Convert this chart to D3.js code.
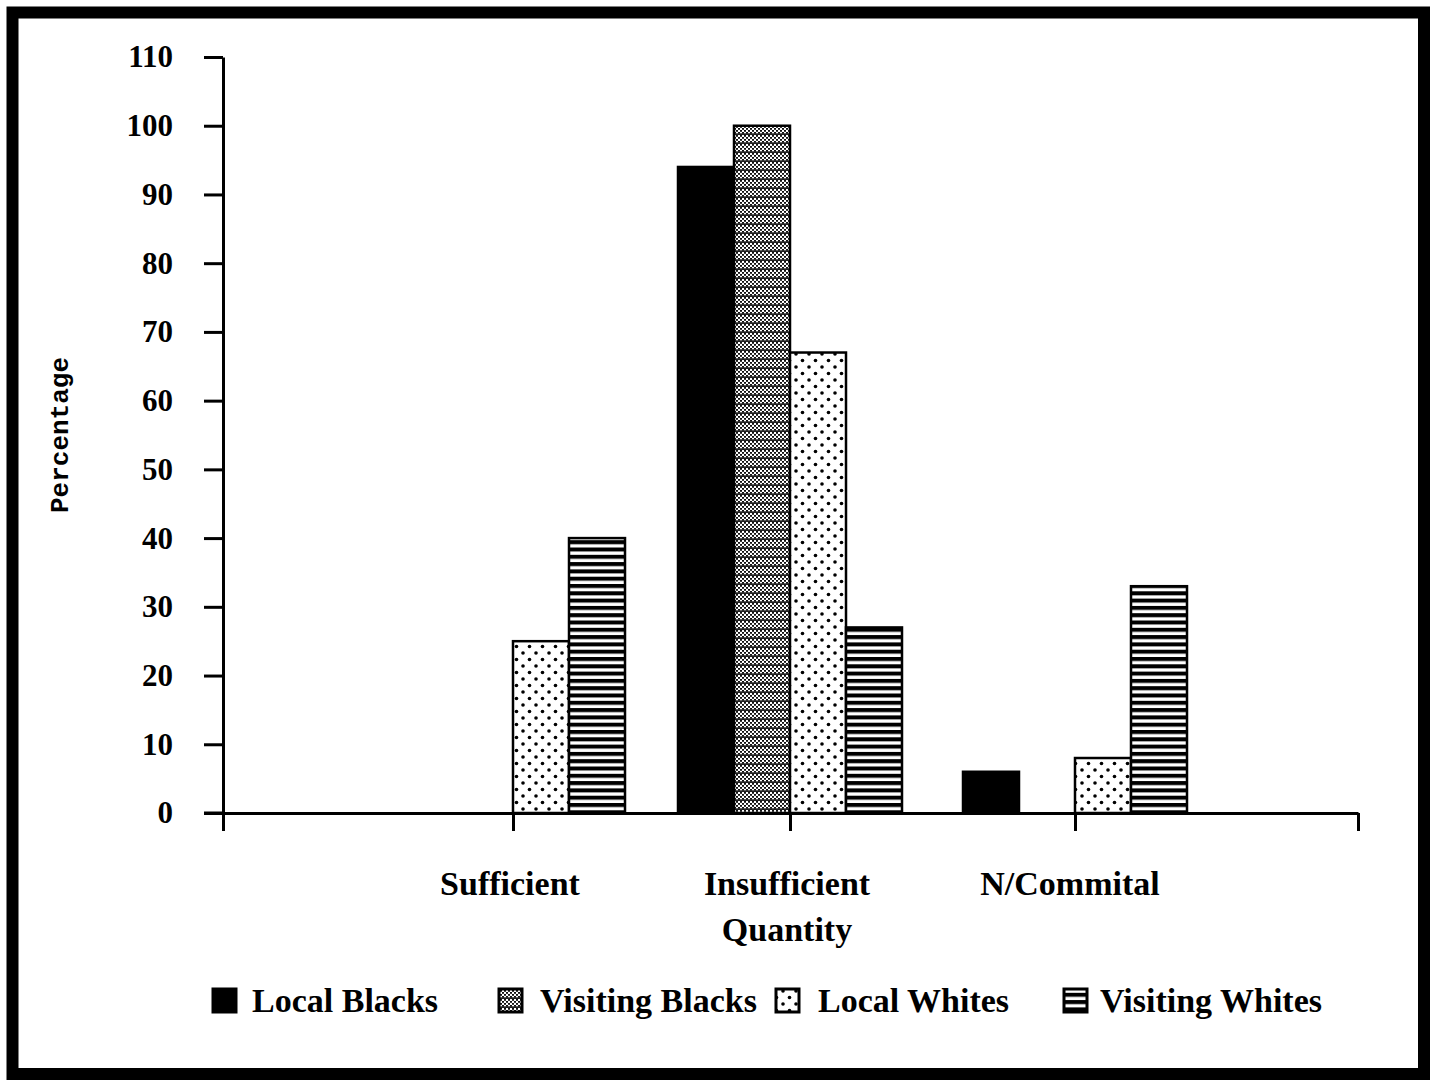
<!DOCTYPE html>
<html><head><meta charset="utf-8">
<script src="https://cdn.jsdelivr.net/npm/d3@7"></script>
<style>html,body{margin:0;padding:0;background:#fff;}</style>
</head><body>
<script>
const categories = ["Sufficient", "Insufficient\nQuantity", "N/Commital"];
const seriesNames = ["Local Blacks", "Visiting Blacks", "Local Whites", "Visiting Whites"];
const localBlacks = [0, 94, 6];
const visitingBlacks = [0, 100, 0];
const localWhites = [25, 67, 8];
const visitingWhites = [40, 27, 33];
const yTicks = [0, 10, 20, 30, 40, 50, 60, 70, 80, 90, 100, 110];
const yLabel = "Percentage";

const seriesValues = [localBlacks, visitingBlacks, localWhites, visitingWhites];
const W = 1438, H = 1085;
const svg = d3.select("body").append("svg").attr("width", W).attr("height", H);
const defs = svg.append("defs");

// patterns
const p1 = defs.append("pattern").attr("id", "pLB").attr("patternUnits", "userSpaceOnUse").attr("width", 4).attr("height", 4);
p1.append("rect").attr("width", 4).attr("height", 4).attr("fill", "#000");

const p2 = defs.append("pattern").attr("id", "pVB").attr("patternUnits", "userSpaceOnUse").attr("width", 4).attr("height", 9);
p2.append("rect").attr("width", 4).attr("height", 9).attr("fill", "#fff");
[[0,0],[2,2],[0,4],[2,6],[0,8]].forEach(([x,y]) => p2.append("rect").attr("x", x).attr("y", y).attr("width", 2).attr("height", 1.8).attr("fill", "#111"));
p2.append("rect").attr("x", 0).attr("y", 7.3).attr("width", 4).attr("height", 1.7).attr("fill", "#222");

const p3 = defs.append("pattern").attr("id", "pLW").attr("patternUnits", "userSpaceOnUse").attr("width", 13).attr("height", 13);
p3.append("rect").attr("width", 13).attr("height", 13).attr("fill", "#fff");
p3.append("circle").attr("cx", 3).attr("cy", 3).attr("r", 1.8).attr("fill", "#000");
p3.append("circle").attr("cx", 9.5).attr("cy", 9.5).attr("r", 1.8).attr("fill", "#000");

const p4 = defs.append("pattern").attr("id", "pVW").attr("patternUnits", "userSpaceOnUse").attr("width", 8).attr("height", 7.3);
p4.append("rect").attr("width", 8).attr("height", 7.3).attr("fill", "#fff");
p4.append("rect").attr("y", 0).attr("width", 8).attr("height", 4).attr("fill", "#000");

const fills = ["url(#pLB)", "url(#pVB)", "url(#pLW)", "url(#pVW)"];

// frame
svg.append("rect").attr("x", 12.5).attr("y", 12.5).attr("width", 1411.5).attr("height", 1061.5)
  .attr("fill", "none").attr("stroke", "#000").attr("stroke-width", 12);

const serif = "'Liberation Serif', 'Times New Roman', serif";

const y = d3.scaleLinear().domain([0, 110]).range([813, 57]);
const x = d3.scaleLinear().domain([0, 1, 2, 3, 4]).range([223, 513, 790, 1075, 1358]);
const inner = d3.scaleBand().domain(seriesNames).range([-112, 112]).padding(0);

// y axis
const yAxis = svg.append("g").attr("transform", "translate(223,0)")
  .call(d3.axisLeft(y).tickValues(yTicks).tickSize(19).tickPadding(31).tickSizeOuter(0));
yAxis.select(".domain").attr("stroke-width", 3);
yAxis.selectAll(".tick line").attr("stroke-width", 3);
yAxis.selectAll("text").attr("font-family", serif).attr("font-weight", "bold").attr("font-size", 31).attr("fill", "#000");

// bars
categories.forEach((c, ci) => {
  seriesNames.forEach((s, si) => {
    const v = seriesValues[si][ci];
    if (v <= 0) return;
    svg.append("rect")
      .attr("x", x(ci + 1) + inner(s))
      .attr("y", y(v))
      .attr("width", inner.bandwidth())
      .attr("height", y(0) - y(v))
      .attr("fill", fills[si])
      .attr("stroke", "#000").attr("stroke-width", 2.5);
  });
});

// x axis
const xAxis = svg.append("g").attr("transform", "translate(0,813)")
  .call(d3.axisBottom(x).tickValues([0, 1, 2, 3, 4]).tickSize(18).tickFormat("").tickSizeOuter(0));
xAxis.select(".domain").attr("stroke-width", 3);
xAxis.selectAll(".tick line").attr("stroke-width", 3);
svg.append("line").attr("x1", 204).attr("x2", 223).attr("y1", y(0)).attr("y2", y(0)).attr("stroke", "#000").attr("stroke-width", 3);

// category labels
categories.forEach((c, ci) => {
  const lines = c.split("\n");
  const t = svg.append("text").attr("text-anchor", "middle").attr("font-family", serif)
    .attr("font-weight", "bold").attr("font-size", 34).attr("fill", "#000");
  lines.forEach((ln, li) => {
    t.append("tspan").attr("x", x(ci + 1) + (ci === 2 ? -5 : -3)).attr("y", 895 + li * 46).text(ln);
  });
});

// y label
svg.append("text").attr("transform", "translate(68,435) rotate(-90)").attr("text-anchor", "middle")
  .attr("font-family", "'Liberation Mono', 'Courier New', monospace").attr("font-weight", "bold")
  .attr("font-size", 26).attr("fill", "#000").text(yLabel);

// legend
const legX = [213, 499, 776, 1064];
const legTX = [252, 540, 818, 1100];
seriesNames.forEach((s, si) => {
  svg.append("rect").attr("x", legX[si]).attr("y", 989).attr("width", 23).attr("height", 23)
    .attr("fill", fills[si]).attr("stroke", "#000").attr("stroke-width", 3);
  svg.append("text").attr("x", legTX[si]).attr("y", 1012).attr("font-family", serif)
    .attr("font-weight", "bold").attr("font-size", 34).attr("fill", "#000").text(s);
});
</script>
</body></html>
